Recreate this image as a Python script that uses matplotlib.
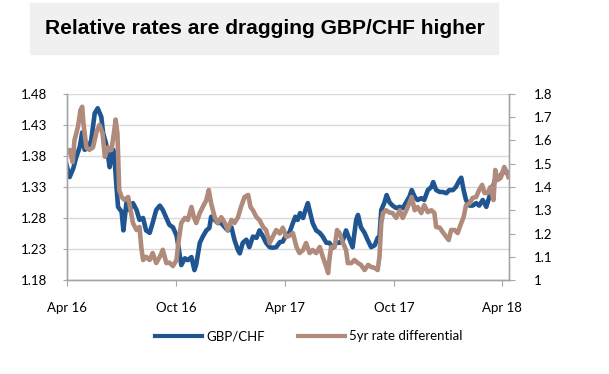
import numpy as np
import pandas as pd
import matplotlib
matplotlib.use("Agg")
import matplotlib.pyplot as plt
from matplotlib.lines import Line2D

# days since 1 Apr 2016
gbp_days = [0, 5, 11, 16, 22, 26, 30, 36, 41, 47, 52, 58, 61, 66, 72, 75, 78, 80, 83, 86,
            92, 95, 100, 105, 111, 117, 122, 128, 133, 139, 144, 150, 156, 161, 167, 172, 178, 184, 187, 192,
            198, 203, 209, 214, 217, 223, 228, 234, 239, 242, 248, 253, 259, 265, 270, 276, 281, 287, 290, 295,
            301, 306, 312, 318, 323, 329, 334, 340, 345, 351, 357, 362, 368, 373, 379, 383, 387, 391, 396, 400,
            404, 408, 412, 418, 424, 429, 435, 440, 446, 452, 457, 463, 468, 474, 479, 485, 488, 493, 499, 504,
            510, 516, 521, 524, 527, 532, 536, 541, 546, 552, 558, 563, 569, 574, 578, 583, 588, 594, 599, 605,
            611, 614, 619, 625, 630, 636, 641, 647, 652, 658, 661, 665, 669, 675, 680, 686, 691, 697, 703, 708,
            714, 719, 725, 730, 736, 739]
gbp_chf = [1.365, 1.346, 1.360, 1.378, 1.395, 1.418, 1.390, 1.393, 1.405, 1.449, 1.457, 1.443, 1.417, 1.400, 1.362, 1.378, 1.390, 1.378, 1.336, 1.298,
           1.290, 1.260, 1.304, 1.293, 1.304, 1.293, 1.277, 1.280, 1.260, 1.256, 1.272, 1.293, 1.300, 1.293, 1.280, 1.269, 1.265, 1.252, 1.235, 1.204,
           1.215, 1.212, 1.217, 1.196, 1.205, 1.240, 1.250, 1.260, 1.264, 1.282, 1.277, 1.272, 1.272, 1.265, 1.260, 1.265, 1.245, 1.228, 1.223, 1.240,
           1.245, 1.233, 1.250, 1.248, 1.260, 1.250, 1.240, 1.233, 1.232, 1.233, 1.241, 1.242, 1.253, 1.256, 1.272, 1.282, 1.277, 1.288, 1.280, 1.293,
           1.304, 1.288, 1.272, 1.260, 1.256, 1.250, 1.240, 1.240, 1.232, 1.241, 1.240, 1.245, 1.260, 1.245, 1.233, 1.277, 1.285, 1.265, 1.256, 1.245,
           1.233, 1.236, 1.248, 1.250, 1.293, 1.304, 1.317, 1.305, 1.300, 1.296, 1.298, 1.296, 1.306, 1.314, 1.325, 1.314, 1.309, 1.312, 1.309, 1.325,
           1.330, 1.338, 1.325, 1.322, 1.322, 1.320, 1.325, 1.325, 1.330, 1.341, 1.345, 1.325, 1.309, 1.300, 1.300, 1.304, 1.300, 1.309, 1.298, 1.314,
           1.330, 1.346, 1.345, 1.353, 1.355, 1.353]

rate_days = [0, 5, 10, 13, 19, 23, 26, 28, 33, 38, 44, 50, 55, 60, 64, 69, 75, 79, 82, 85,
             88, 92, 97, 103, 107, 111, 117, 122, 125, 128, 133, 139, 144, 150, 156, 161, 167, 172, 178, 184,
             187, 192, 198, 203, 209, 213, 217, 223, 228, 234, 238, 242, 248, 253, 259, 265, 270, 276, 281, 287,
             292, 298, 304, 308, 312, 318, 323, 329, 334, 340, 345, 351, 357, 362, 368, 373, 379, 385, 390, 396,
             401, 407, 412, 418, 424, 429, 435, 438, 440, 443, 449, 453, 457, 463, 468, 471, 477, 482, 488, 493,
             499, 505, 510, 516, 521, 524, 527, 530, 535, 541, 546, 552, 558, 563, 569, 574, 578, 583, 588, 594,
             599, 605, 611, 616, 619, 625, 630, 636, 640, 644, 650, 655, 661, 665, 669, 675, 680, 686, 691, 696,
             700, 705, 710, 715, 718, 722, 727, 733, 737, 740]
rate_diff = [1.550, 1.559, 1.507, 1.600, 1.660, 1.730, 1.745, 1.675, 1.570, 1.560, 1.570, 1.637, 1.667, 1.632, 1.530, 1.570, 1.560, 1.630, 1.690, 1.630,
             1.387, 1.357, 1.344, 1.357, 1.300, 1.245, 1.215, 1.228, 1.140, 1.086, 1.100, 1.086, 1.116, 1.073, 1.100, 1.130, 1.073, 1.075, 1.060, 1.086,
             1.159, 1.245, 1.267, 1.258, 1.314, 1.271, 1.245, 1.288, 1.314, 1.344, 1.387, 1.330, 1.270, 1.245, 1.270, 1.245, 1.215, 1.258, 1.245, 1.270,
             1.314, 1.357, 1.366, 1.314, 1.300, 1.270, 1.258, 1.228, 1.215, 1.159, 1.185, 1.215, 1.200, 1.225, 1.185, 1.190, 1.202, 1.142, 1.116, 1.129,
             1.159, 1.116, 1.129, 1.116, 1.142, 1.100, 1.056, 1.030, 1.086, 1.142, 1.142, 1.215, 1.202, 1.159, 1.129, 1.073, 1.073, 1.086, 1.073, 1.065,
             1.043, 1.065, 1.056, 1.052, 1.043, 1.100, 1.245, 1.288, 1.300, 1.290, 1.288, 1.267, 1.300, 1.267, 1.300, 1.330, 1.357, 1.300, 1.314, 1.288,
             1.322, 1.292, 1.300, 1.288, 1.228, 1.225, 1.206, 1.185, 1.172, 1.215, 1.215, 1.202, 1.245, 1.271, 1.322, 1.330, 1.353, 1.357, 1.387, 1.409,
             1.374, 1.374, 1.400, 1.344, 1.473, 1.430, 1.439, 1.486, 1.464, 1.443]

tick_dates = ["2016-04-01", "2016-10-01", "2017-04-01", "2017-10-01", "2018-04-01"]
tick_labels = ["Apr 16", "Oct 16", "Apr 17", "Oct 17", "Apr 18"]

start = pd.Timestamp("2016-04-01")
gbp_x = start + pd.to_timedelta(gbp_days, unit="D")
rate_x = start + pd.to_timedelta(rate_days, unit="D")

tick_font = "Lato"
blue = "#1f5591"
brown = "#b08a7a"
axis_grey = "#a6a6a6"

fig = plt.figure(figsize=(6.09, 3.74), dpi=100)
ax = fig.add_axes([0.1095, 0.2513, 0.7263, 0.4974])
ax2 = ax.twinx()

ax.plot(gbp_x, gbp_chf, color=blue, lw=3.3, solid_joinstyle="round")
ax2.plot(rate_x, rate_diff, color=brown, lw=3.3, solid_joinstyle="round")

ax.set_ylim(1.18, 1.48)
ax.set_yticks(np.arange(1.18, 1.481, 0.05))
ax.set_yticklabels([f"{v:.2f}" for v in np.arange(1.18, 1.481, 0.05)])
ax2.set_ylim(1.0, 1.8)
ax2.set_yticks(np.arange(1.0, 1.801, 0.1))
ax2.set_yticklabels(["1"] + [f"{v:.1f}" for v in np.arange(1.1, 1.801, 0.1)])

ax.set_xlim(start, start + pd.Timedelta(days=741))
ax.set_xticks(pd.to_datetime(tick_dates))
ax.set_xticklabels(tick_labels)

ax.grid(axis="y", color="#d9d9d9", lw=1)
ax.set_axisbelow(True)

for a in (ax, ax2):
    a.spines["top"].set_visible(False)
    for s in ("left", "right", "bottom"):
        a.spines[s].set_color(axis_grey)
        a.spines[s].set_linewidth(1)
ax.tick_params(axis="y", length=3, color=axis_grey, pad=11, labelsize=9.5)
ax.tick_params(axis="x", length=4, color=axis_grey, pad=12, labelsize=9.5)
ax2.tick_params(axis="y", length=4, color=axis_grey, pad=14, labelsize=9.5)
for lab in ax.get_xticklabels() + ax.get_yticklabels() + ax2.get_yticklabels():
    lab.set_fontfamily(tick_font)

handles = [Line2D([], [], color=blue, lw=3), Line2D([], [], color=brown, lw=3)]
fig.legend(handles, ["GBP/CHF", "5yr rate differential"], loc="center", ncol=2,
           bbox_to_anchor=(0.507, 0.101), frameon=False, handlelength=3.6,
           handletextpad=0.3, columnspacing=2.5, prop={"family": tick_font, "size": 9.5})

fig.patches.append(plt.Rectangle((30 / 609, 1 - 54 / 374), 468 / 609, 51 / 374,
                                 transform=fig.transFigure, color="#f0f0f0", zorder=0))
title = fig.text(265 / 609, 1 - 29 / 374, "Relative rates are dragging GBP/CHF higher",
                 ha="center", va="center", fontsize=16, fontweight="bold",
                 family="Liberation Sans")
# shrink the title so it fits in the grey box (~440 px wide)
renderer = fig.canvas.get_renderer()
w = title.get_window_extent(renderer).width
title.set_fontsize(16 * 440 / w)

fig.savefig("out.png", dpi=100)
